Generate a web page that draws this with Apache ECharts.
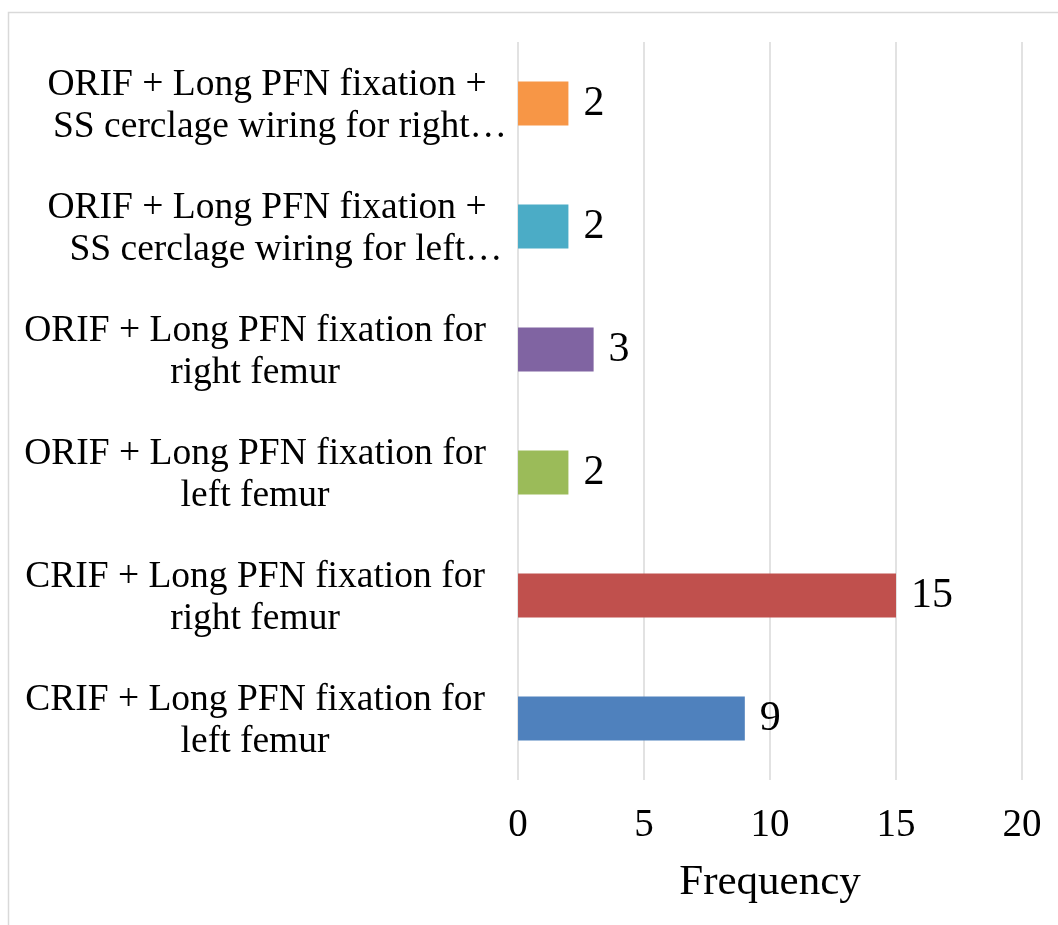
<!DOCTYPE html>
<html>
<head>
<meta charset="utf-8">
<script src="https://cdn.jsdelivr.net/npm/echarts@6/dist/echarts.min.js"></script>
<style>
html,body{margin:0;padding:0;background:#fff;}
#chart{width:1058px;height:925px;}
</style>
</head>
<body>
<div id="chart"></div>
<script>
// Categories listed bottom to top (as drawn on the category axis)
const categories = [
  "CRIF + Long PFN fixation for\nleft femur",
  "CRIF + Long PFN fixation for\nright femur",
  "ORIF + Long PFN fixation for\nleft femur",
  "ORIF + Long PFN fixation for\nright femur",
  "ORIF + Long PFN fixation +\nSS cerclage wiring for left…",
  "ORIF + Long PFN fixation +\nSS cerclage wiring for right…"
];
const frequencies = [9, 15, 2, 3, 2, 2];
const barColors = ["#4F81BD", "#C0504D", "#9BBB59", "#8064A2", "#4BACC6", "#F79646"];
const xTicks = [0, 5, 10, 15, 20];
const axisTitle = "Frequency";

const FONT = "'Liberation Serif', 'Times New Roman', serif";
const LBL = {fontFamily: FONT, fontSize: 37.5, color: '#000', lineHeight: 42};

function fmtCategory(value) {
  return value.split('\n').map(function (line) {
    if (/left…$/.test(line)) return '{c|' + line + '}';
    if (/…$/.test(line)) return '{b|' + line + '}';
    if (/\+$/.test(line)) return '{a|' + line + '}';
    return '{n|' + line + '}';
  }).join('\n');
}

const chart = echarts.init(document.getElementById('chart'), null, {renderer: 'canvas'});
chart.setOption({
  animation: false,
  backgroundColor: '#ffffff',
  graphic: [{
    type: 'rect',
    shape: {x: 8.5, y: 12.5, width: 1200, height: 1000},
    style: {fill: 'none', stroke: '#d9d9d9', lineWidth: 1.5},
    silent: true
  }],
  grid: {left: 517, right: 36, top: 42, bottom: 145, containLabel: false},
  xAxis: {
    type: 'value',
    min: xTicks[0],
    max: xTicks[xTicks.length - 1],
    interval: xTicks[1] - xTicks[0],
    name: axisTitle,
    nameLocation: 'middle',
    nameGap: 81,
    nameTextStyle: {fontFamily: FONT, fontSize: 43, color: '#000'},
    axisLine: {show: false},
    axisTick: {show: false},
    axisLabel: {fontFamily: FONT, fontSize: 39, color: '#000', margin: 26},
    splitLine: {show: true, lineStyle: {color: '#d9d9d9', width: 1.5}}
  },
  yAxis: {
    type: 'category',
    data: categories,
    axisLine: {show: false},
    axisTick: {show: false},
    axisLabel: {
      fontFamily: FONT, fontSize: 37.5, color: '#000',
      lineHeight: 42, align: 'center', margin: 263,
      padding: [6, 0, 0, 0],
      formatter: fmtCategory,
      rich: {
        n: Object.assign({}, LBL),
        a: Object.assign({padding: [0, 0, 0, 24]}, LBL),
        b: Object.assign({padding: [0, 0, 0, 50]}, LBL),
        c: Object.assign({padding: [0, 0, 0, 62]}, LBL)
      }
    }
  },
  series: [{
    type: 'bar',
    barWidth: 44,
    data: frequencies.map((v, i) => ({value: v, itemStyle: {color: barColors[i]}})),
    label: {
      show: true, position: 'right', distance: 15,
      fontFamily: FONT, fontSize: 42, color: '#000',
      padding: [6, 0, 0, 0]
    }
  }]
});
</script>
</body>
</html>
